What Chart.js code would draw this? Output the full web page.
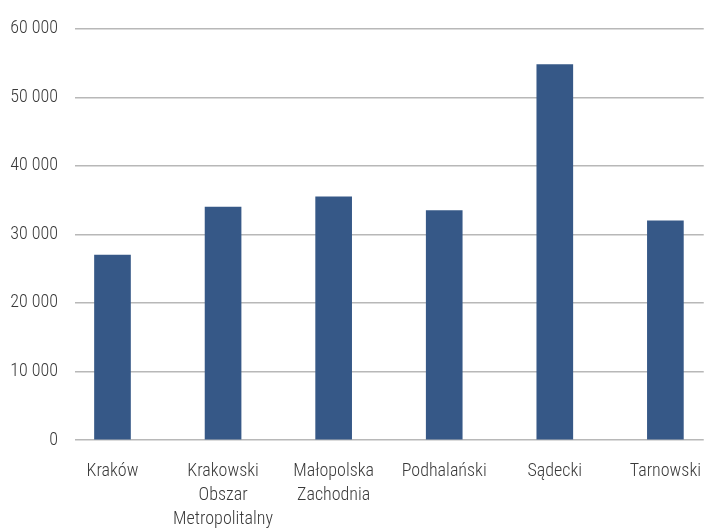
<!DOCTYPE html>
<html>
<head>
<meta charset="utf-8">
<script src="https://cdn.jsdelivr.net/npm/chart.js@4/dist/chart.umd.min.js"></script>
<style>
  body { margin: 0; background: #fff; overflow: hidden; }
</style>
</head>
<body>
<canvas id="BarChart" width="713" height="528"></canvas>
<script>
// categories (subregions) and their values
const categories = [
    'Kraków',
    ['Krakowski', 'Obszar', 'Metropolitalny'],
    ['Małopolska', 'Zachodnia'],
    'Podhalański',
    'Sądecki',
    'Tarnowski'
];
const values = [27000, 34000, 35500, 33500, 54800, 32000];
const yTicks = [0, 10000, 20000, 30000, 40000, 50000, 60000];

// format thousands with a space, e.g. 60 000
const fmt = v => String(v).replace(/\B(?=(\d{3})+(?!\d))/g, ' ');

const points = values.map((v, i) => ({ x: i, y: v }));
const labelFont = { family: '"Roboto Condensed", "Liberation Sans", sans-serif', size: 18, weight: 300, lineHeight: 1.33 };

const ctx = document.getElementById('BarChart').getContext('2d');
new Chart(ctx, {
    type: 'bar',
    data: {
        datasets: [{
            data: points,
            backgroundColor: '#365887',
            borderWidth: 0,
            barThickness: 36
        }]
    },
    options: {
        responsive: false,
        animation: false,
        layout: { padding: { top: 24, right: 0, left: 0, bottom: 0 } },
        plugins: {
            legend: { display: false },
            tooltip: { enabled: false }
        },
        scales: {
            x: {
                type: 'linear',
                offset: false,
                min: -0.339,
                max: 5.347,
                grid: { display: false },
                border: { display: false },
                afterFit: s => { s.height = 88; },
                ticks: {
                    stepSize: 1,
                    includeBounds: false,
                    autoSkip: false,
                    maxRotation: 0,
                    padding: 12,
                    color: '#3a3a3a',
                    font: labelFont,
                    callback: v => Number.isInteger(v) && categories[v] !== undefined ? categories[v] : ''
                }
            },
            y: {
                min: yTicks[0],
                max: yTicks[yTicks.length - 1],
                afterFit: s => { s.width = 75; },
                border: { display: false },
                grid: { color: '#b8b8b8', lineWidth: 1.5, drawTicks: false },
                ticks: {
                    stepSize: 10000,
                    padding: 17,
                    color: '#3a3a3a',
                    font: labelFont,
                    callback: v => fmt(v)
                }
            }
        }
    }
});
</script>
</body>
</html>
